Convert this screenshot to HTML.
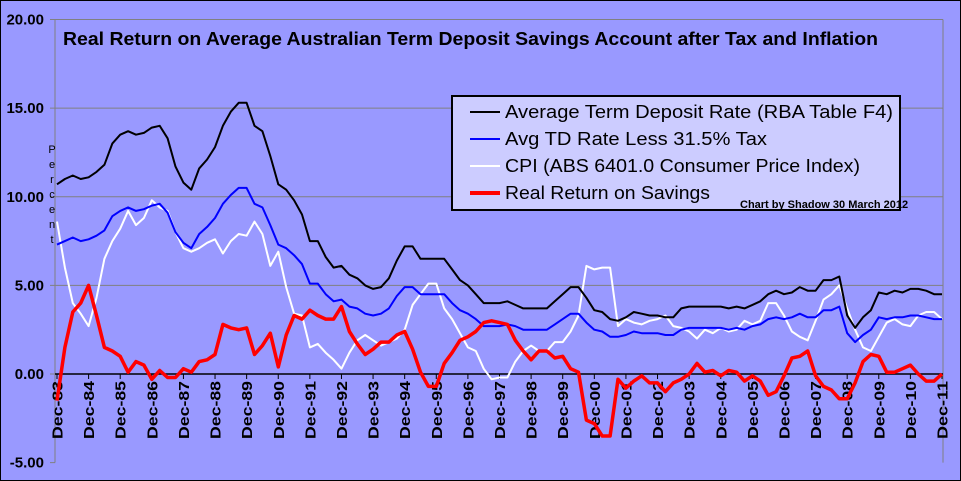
<!DOCTYPE html>
<html><head><meta charset="utf-8"><style>
html,body{margin:0;padding:0;background:#9999ff;}
svg{display:block;font-family:"Liberation Sans",Arial,sans-serif;}
</style></head><body>
<svg id="chart" width="961" height="481" viewBox="0 0 961 481" xmlns="http://www.w3.org/2000/svg">
<rect x="0.5" y="0.5" width="960" height="480" fill="#9999ff" stroke="#000" stroke-width="1"/>
<g id="grid"></g>
<g id="axes"></g>
<text x="63" y="45" font-size="18" font-weight="bold" fill="#000" textLength="815" lengthAdjust="spacingAndGlyphs">Real Return on Average Australian Term Deposit Savings Account after Tax and Inflation</text>
<g id="ylabel" font-size="11" fill="#000" text-anchor="middle">
<text x="52" y="153">P</text><text x="52" y="168">e</text><text x="52" y="183">r</text><text x="52" y="198">c</text><text x="52" y="213">e</text><text x="52" y="228">n</text><text x="52" y="243">t</text>
</g>
<g id="series"></g>
<g>
<rect x="452" y="96" width="448" height="114" fill="#ccccff" stroke="#000" stroke-width="2"/>
<line x1="470" y1="112" x2="500" y2="112" stroke="#000" stroke-width="2"/>
<text x="505" y="118" font-size="18" textLength="388" lengthAdjust="spacingAndGlyphs">Average Term Deposit Rate (RBA Table F4)</text>
<line x1="470" y1="139" x2="500" y2="139" stroke="#0000ff" stroke-width="2"/>
<text x="505" y="145" font-size="18" textLength="262" lengthAdjust="spacingAndGlyphs">Avg TD Rate Less 31.5% Tax</text>
<line x1="470" y1="166" x2="500" y2="166" stroke="#ffffff" stroke-width="2"/>
<text x="505" y="172" font-size="18" textLength="355" lengthAdjust="spacingAndGlyphs">CPI (ABS 6401.0 Consumer Price Index)</text>
<line x1="470" y1="193" x2="500" y2="193" stroke="#ff0000" stroke-width="4"/>
<text x="505" y="199" font-size="18" textLength="205" lengthAdjust="spacingAndGlyphs">Real Return on Savings</text>
<text x="740" y="208" font-size="11" font-weight="bold">Chart by Shadow 30 March 2012</text>
</g>
</svg>
<script>
const yTicks = [20, 15, 10, 5, 0, -5];
const yTickLabels = ["20.00", "15.00", "10.00", "5.00", "0.00", "-5.00"];
const years = ["83","84","85","86","87","88","89","90","91","92","93","94","95","96","97","98","99","00","01","02","03","04","05","06","07","08","09","10","11"];
const tdRate = [10.7,11.0,11.2,11.0,11.1,11.4,11.8,13.0,13.5,13.7,13.5,13.6,13.9,14.0,13.3,11.7,10.8,10.4,11.6,12.1,12.8,14.0,14.8,15.3,15.3,14.0,13.7,12.3,10.7,10.4,9.8,9.0,7.5,7.5,6.6,6.0,6.1,5.6,5.4,5.0,4.8,4.9,5.4,6.4,7.2,7.2,6.5,6.5,6.5,6.5,5.9,5.3,5.0,4.5,4.0,4.0,4.0,4.1,3.9,3.7,3.7,3.7,3.7,4.1,4.5,4.9,4.9,4.3,3.6,3.5,3.1,3.0,3.2,3.5,3.4,3.3,3.3,3.2,3.2,3.7,3.8,3.8,3.8,3.8,3.8,3.7,3.8,3.7,3.9,4.1,4.5,4.7,4.5,4.6,4.9,4.7,4.7,5.3,5.3,5.5,3.3,2.6,3.2,3.6,4.6,4.5,4.7,4.6,4.8,4.8,4.7,4.5,4.5];
const afterTax = [7.3,7.5,7.7,7.5,7.6,7.8,8.1,8.9,9.2,9.4,9.2,9.3,9.5,9.6,9.1,8.0,7.4,7.1,7.9,8.3,8.8,9.6,10.1,10.5,10.5,9.6,9.4,8.4,7.3,7.1,6.7,6.2,5.1,5.1,4.5,4.1,4.2,3.8,3.7,3.4,3.3,3.4,3.7,4.4,4.9,4.9,4.5,4.5,4.5,4.5,4.0,3.6,3.4,3.1,2.7,2.7,2.7,2.8,2.7,2.5,2.5,2.5,2.5,2.8,3.1,3.4,3.4,2.9,2.5,2.4,2.1,2.1,2.2,2.4,2.3,2.3,2.3,2.2,2.2,2.5,2.6,2.6,2.6,2.6,2.6,2.5,2.6,2.5,2.7,2.8,3.1,3.2,3.1,3.2,3.4,3.2,3.2,3.6,3.6,3.8,2.3,1.8,2.2,2.5,3.2,3.1,3.2,3.2,3.3,3.3,3.2,3.1,3.1];
const cpi = [8.6,6.0,4.0,3.4,2.7,4.3,6.5,7.5,8.2,9.2,8.4,8.8,9.8,9.4,9.2,8.0,7.1,6.9,7.1,7.4,7.6,6.8,7.5,7.9,7.8,8.6,7.9,6.1,6.9,4.9,3.4,3.3,1.5,1.7,1.2,0.8,0.3,1.2,1.9,2.2,1.9,1.6,1.8,2.0,2.5,3.9,4.5,5.1,5.1,3.7,3.1,2.3,1.5,1.3,0.3,-0.3,-0.2,-0.2,0.7,1.3,1.6,1.3,1.3,1.8,1.8,2.4,3.3,6.1,5.9,6.0,6.0,2.7,3.1,2.9,2.8,3.0,3.1,3.3,2.7,2.6,2.4,2.0,2.5,2.3,2.6,2.4,2.5,3.0,2.8,3.0,4.0,4.0,3.3,2.4,2.1,1.9,3.0,4.2,4.5,5.0,3.7,2.5,1.5,1.3,2.1,2.9,3.1,2.8,2.7,3.3,3.5,3.5,3.1];
const realReturn = [-1.5,1.5,3.5,4.0,5.0,3.3,1.5,1.3,1.0,0.1,0.7,0.5,-0.3,0.2,-0.2,-0.2,0.3,0.1,0.7,0.8,1.1,2.8,2.6,2.5,2.6,1.1,1.6,2.3,0.4,2.2,3.3,3.1,3.6,3.3,3.1,3.1,3.8,2.4,1.7,1.1,1.4,1.8,1.8,2.2,2.4,1.4,0.1,-0.7,-0.7,0.6,1.2,1.9,2.1,2.4,2.9,3.0,2.9,2.8,1.9,1.3,0.8,1.3,1.3,0.9,1.0,0.3,0.1,-2.6,-2.8,-3.5,-3.5,-0.3,-0.8,-0.4,-0.1,-0.5,-0.5,-1.0,-0.5,-0.3,0.0,0.6,0.1,0.2,-0.1,0.2,0.1,-0.4,-0.1,-0.4,-1.2,-1.0,-0.1,0.9,1.0,1.3,-0.1,-0.7,-0.9,-1.4,-1.4,-0.5,0.7,1.1,1.0,0.1,0.1,0.3,0.5,0.0,-0.4,-0.4,0.0];

const NS = "http://www.w3.org/2000/svg";
const X0 = 57, X1 = 942, PL = 55, PR = 943;
const nQ = tdRate.length;
function xScale(i){ return X0 + i * (X1 - X0) / (nQ - 1); }
function yScale(v){ return 374 - v * (354.5 / 20); }
function mk(tag, attrs, parent){ const e = document.createElementNS(NS, tag); for (const k in attrs) e.setAttribute(k, attrs[k]); parent.appendChild(e); return e; }

const grid = document.getElementById('grid');
const axes = document.getElementById('axes');
yTicks.forEach((v, i) => {
  const y = yScale(v);
  if (v > 0) {
    const gl = mk('line', {x1: PL, y1: y, x2: PR, y2: y, stroke: '#808080', 'stroke-width': 1}, grid);
    
    
  }
  const t = mk('line', {x1: 50, y1: y, x2: PL, y2: y, stroke: '#808080', 'stroke-width': 1}, axes);
  
  
  const lb = mk('text', {x: 44, y: y + 5, 'text-anchor': 'end', 'font-size': 15, 'font-weight': 'bold'}, axes);
  lb.textContent = yTickLabels[i];
  
  
});
const la = mk('line', {x1: PL, y1: yScale(20), x2: PL, y2: yScale(-5), stroke: '#808080', 'stroke-width': 1}, axes);


const ra = mk('line', {x1: PR, y1: yScale(20), x2: PR, y2: yScale(-5), stroke: '#808080', 'stroke-width': 1}, axes);


const za = mk('line', {x1: PL, y1: yScale(0), x2: PR, y2: yScale(0), stroke: '#000', 'stroke-width': 1.5}, axes);


years.forEach((yr, i) => {
  const x = xScale(i * 4);
  const tk = mk('line', {x1: x, y1: yScale(0), x2: x, y2: yScale(0) + 5, stroke: '#000', 'stroke-width': 1}, axes);
  
  
  const t = mk('text', {x: 0, y: 0, transform: `translate(${x + 5.5},${yScale(0) + 7}) rotate(-90)`, 'text-anchor': 'end', 'font-size': 15, 'font-weight': 'bold', textLength: 58, lengthAdjust: 'spacingAndGlyphs'}, axes);
  t.textContent = 'Dec-' + yr;
  
  
});

const series = document.getElementById('series');
function line(data, color, w, name){
  const pts = data.map((v, i) => xScale(i).toFixed(1) + ',' + yScale(v).toFixed(1)).join(' ');
  const p = mk('polyline', {points: pts, fill: 'none', stroke: color, 'stroke-width': w, 'stroke-linejoin': 'round'}, series);
  
  
}
line(cpi, '#ffffff', 2, 'cpi-line');
line(afterTax, '#0000ff', 2, 'after-tax-rate-line');
line(tdRate, '#000000', 2, 'term-deposit-rate-line');
line(realReturn, '#ff0000', 3.5, 'real-return-line');
</script>
</body></html>
